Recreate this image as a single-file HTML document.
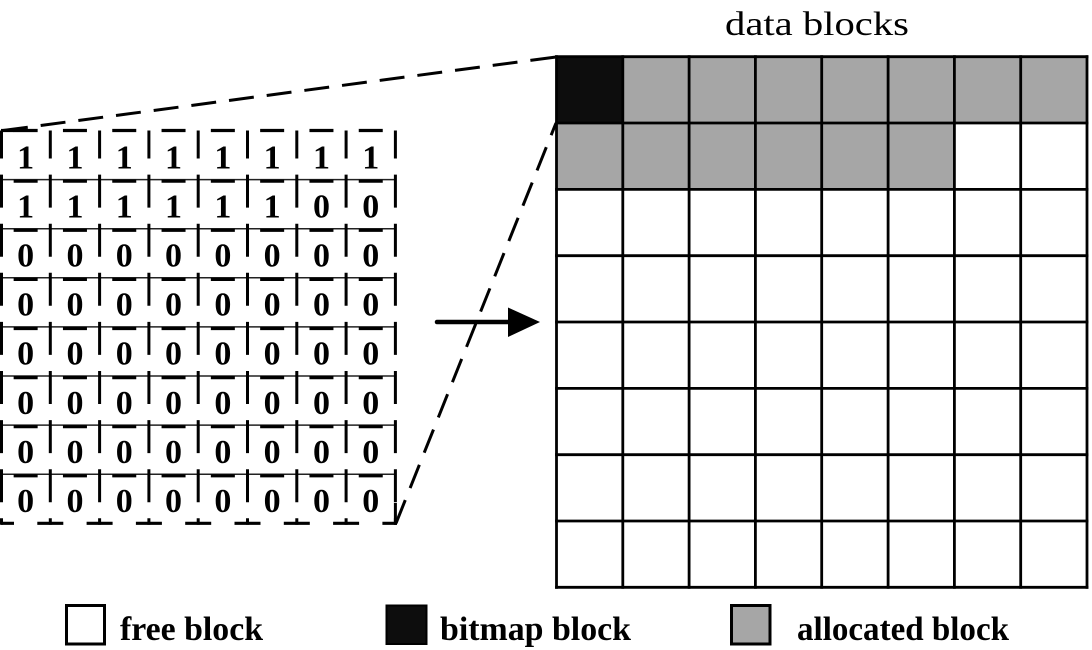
<!DOCTYPE html>
<html>
<head>
<meta charset="utf-8">
<style>
html,body{margin:0;padding:0;background:#fff;}
body{width:1092px;height:650px;overflow:hidden;}
svg{display:block;}
.d{font-family:"Liberation Serif",serif;font-weight:bold;font-size:34px;text-anchor:middle;fill:#000;}
.lg{font-family:"Liberation Serif",serif;font-weight:bold;font-size:34px;fill:#000;}
</style>
</head>
<body>
<svg width="1092" height="650" viewBox="0 0 1092 650" xmlns="http://www.w3.org/2000/svg">
  <!-- title -->
  <text x="725" y="35" font-family="Liberation Serif, serif" font-size="34" textLength="184" lengthAdjust="spacingAndGlyphs" fill="#000">data blocks</text>

  <!-- right grid fills -->
  <rect x="622.8" y="56.7" width="464.2" height="66.3" fill="#a6a6a6"/>
  <rect x="556.5" y="123" width="397.9" height="66.4" fill="#a6a6a6"/>
  <rect x="556.5" y="56.7" width="66.3" height="66.3" fill="#0d0d0d"/>

  <!-- right grid lines -->
  <g stroke="#000" stroke-width="2.8" fill="none" stroke-linecap="square">
    <line x1="556.5" y1="56.7" x2="556.5" y2="587.3"/>
    <line x1="622.8" y1="56.7" x2="622.8" y2="587.3"/>
    <line x1="689.1" y1="56.7" x2="689.1" y2="587.3"/>
    <line x1="755.4" y1="56.7" x2="755.4" y2="587.3"/>
    <line x1="821.7" y1="56.7" x2="821.7" y2="587.3"/>
    <line x1="888.1" y1="56.7" x2="888.1" y2="587.3"/>
    <line x1="954.4" y1="56.7" x2="954.4" y2="587.3"/>
    <line x1="1020.7" y1="56.7" x2="1020.7" y2="587.3"/>
    <line x1="1087" y1="56.7" x2="1087" y2="587.3"/>
    <line x1="556.5" y1="56.7" x2="1087" y2="56.7"/>
    <line x1="556.5" y1="123" x2="1087" y2="123"/>
    <line x1="556.5" y1="189.4" x2="1087" y2="189.4"/>
    <line x1="556.5" y1="255.7" x2="1087" y2="255.7"/>
    <line x1="556.5" y1="322" x2="1087" y2="322"/>
    <line x1="556.5" y1="388.4" x2="1087" y2="388.4"/>
    <line x1="556.5" y1="454.7" x2="1087" y2="454.7"/>
    <line x1="556.5" y1="521" x2="1087" y2="521"/>
    <line x1="556.5" y1="587.3" x2="1087" y2="587.3"/>
  </g>

  <!-- dashed zoom lines -->
  <g stroke="#000" stroke-width="3" fill="none" stroke-dasharray="25 13">
    <line x1="3" y1="130.5" x2="556" y2="57"/>
    <line x1="396" y1="523.3" x2="556" y2="123"/>
  </g>

  <!-- arrow -->
  <line x1="437" y1="322" x2="512" y2="322" stroke="#000" stroke-width="4.5" stroke-linecap="round"/>
  <polygon points="508,307.5 540,322 508,337" fill="#000"/>

  <!-- left grid: thin solid row boundaries -->
  <g stroke="#222" stroke-width="1.5">
    <line x1="1" y1="179.6" x2="395.4" y2="179.6"/>
    <line x1="1" y1="228.7" x2="395.4" y2="228.7"/>
    <line x1="1" y1="277.8" x2="395.4" y2="277.8"/>
    <line x1="1" y1="326.9" x2="395.4" y2="326.9"/>
    <line x1="1" y1="376" x2="395.4" y2="376"/>
    <line x1="1" y1="425.1" x2="395.4" y2="425.1"/>
    <line x1="1" y1="474.2" x2="395.4" y2="474.2"/>
  </g>
  <!-- thick dashes (cell-centered) -->
  <g stroke="#000" stroke-width="3.2" stroke-dasharray="0 12.65 24 12.65" fill="none">
    <line x1="1" y1="130.5" x2="395.4" y2="130.5"/>
    <line x1="1" y1="181.2" x2="395.4" y2="181.2"/>
    <line x1="1" y1="230.3" x2="395.4" y2="230.3"/>
    <line x1="1" y1="279.4" x2="395.4" y2="279.4"/>
    <line x1="1" y1="328.5" x2="395.4" y2="328.5"/>
    <line x1="1" y1="377.6" x2="395.4" y2="377.6"/>
    <line x1="1" y1="426.7" x2="395.4" y2="426.7"/>
    <line x1="1" y1="475.8" x2="395.4" y2="475.8"/>
  </g>
  <!-- bottom border: dashes centered on vertical lines -->
  <line x1="1" y1="523.3" x2="396.9" y2="523.3" stroke="#000" stroke-width="3.2" stroke-dasharray="13 23.3 13 0" fill="none"/>
  <!-- top-left corner piece -->
  <line x1="1" y1="130.5" x2="14" y2="130.5" stroke="#000" stroke-width="3.2"/>
  <!-- vertical dashed lines -->
  <g stroke="#000" stroke-width="3" stroke-dasharray="28 16.1 5 0" fill="none">
    <line x1="1.5" y1="130.5" x2="1.5" y2="524.8"/>
    <line x1="50.3" y1="130.5" x2="50.3" y2="524.8"/>
    <line x1="99.6" y1="130.5" x2="99.6" y2="524.8"/>
    <line x1="148.9" y1="130.5" x2="148.9" y2="524.8"/>
    <line x1="198.2" y1="130.5" x2="198.2" y2="524.8"/>
    <line x1="247.5" y1="130.5" x2="247.5" y2="524.8"/>
    <line x1="296.8" y1="130.5" x2="296.8" y2="524.8"/>
    <line x1="346.1" y1="130.5" x2="346.1" y2="524.8"/>
    <line x1="395.4" y1="130.5" x2="395.4" y2="524.8"/>
  </g>
  <!-- bottom-right corner tail -->
  <line x1="395.4" y1="503" x2="395.4" y2="524.8" stroke="#000" stroke-width="3"/>

  <!-- digits -->
  <g class="d">
    <text x="25.65" y="168.3">1</text><text x="74.95" y="168.3">1</text><text x="124.25" y="168.3">1</text><text x="173.55" y="168.3">1</text><text x="222.85" y="168.3">1</text><text x="272.15" y="168.3">1</text><text x="321.45" y="168.3">1</text><text x="370.75" y="168.3">1</text>
    <text x="25.65" y="217.4">1</text><text x="74.95" y="217.4">1</text><text x="124.25" y="217.4">1</text><text x="173.55" y="217.4">1</text><text x="222.85" y="217.4">1</text><text x="272.15" y="217.4">1</text><text x="321.45" y="217.4">0</text><text x="370.75" y="217.4">0</text>
    <text x="25.65" y="266.5">0</text><text x="74.95" y="266.5">0</text><text x="124.25" y="266.5">0</text><text x="173.55" y="266.5">0</text><text x="222.85" y="266.5">0</text><text x="272.15" y="266.5">0</text><text x="321.45" y="266.5">0</text><text x="370.75" y="266.5">0</text>
    <text x="25.65" y="315.6">0</text><text x="74.95" y="315.6">0</text><text x="124.25" y="315.6">0</text><text x="173.55" y="315.6">0</text><text x="222.85" y="315.6">0</text><text x="272.15" y="315.6">0</text><text x="321.45" y="315.6">0</text><text x="370.75" y="315.6">0</text>
    <text x="25.65" y="364.7">0</text><text x="74.95" y="364.7">0</text><text x="124.25" y="364.7">0</text><text x="173.55" y="364.7">0</text><text x="222.85" y="364.7">0</text><text x="272.15" y="364.7">0</text><text x="321.45" y="364.7">0</text><text x="370.75" y="364.7">0</text>
    <text x="25.65" y="413.8">0</text><text x="74.95" y="413.8">0</text><text x="124.25" y="413.8">0</text><text x="173.55" y="413.8">0</text><text x="222.85" y="413.8">0</text><text x="272.15" y="413.8">0</text><text x="321.45" y="413.8">0</text><text x="370.75" y="413.8">0</text>
    <text x="25.65" y="462.9">0</text><text x="74.95" y="462.9">0</text><text x="124.25" y="462.9">0</text><text x="173.55" y="462.9">0</text><text x="222.85" y="462.9">0</text><text x="272.15" y="462.9">0</text><text x="321.45" y="462.9">0</text><text x="370.75" y="462.9">0</text>
    <text x="25.65" y="512">0</text><text x="74.95" y="512">0</text><text x="124.25" y="512">0</text><text x="173.55" y="512">0</text><text x="222.85" y="512">0</text><text x="272.15" y="512">0</text><text x="321.45" y="512">0</text><text x="370.75" y="512">0</text>
  </g>

  <!-- legend -->
  <rect x="66.5" y="605.5" width="38" height="38.5" fill="#fff" stroke="#000" stroke-width="3"/>
  <text class="lg" x="120" y="640" textLength="143" lengthAdjust="spacingAndGlyphs">free block</text>
  <rect x="386.5" y="605.5" width="40" height="38.5" fill="#0d0d0d" stroke="#000" stroke-width="2"/>
  <text class="lg" x="440" y="640" textLength="191" lengthAdjust="spacingAndGlyphs">bitmap block</text>
  <rect x="731.5" y="605.5" width="38.5" height="38.5" fill="#a6a6a6" stroke="#000" stroke-width="3"/>
  <text class="lg" x="797" y="640" textLength="212" lengthAdjust="spacingAndGlyphs">allocated block</text>
</svg>
</body>
</html>
